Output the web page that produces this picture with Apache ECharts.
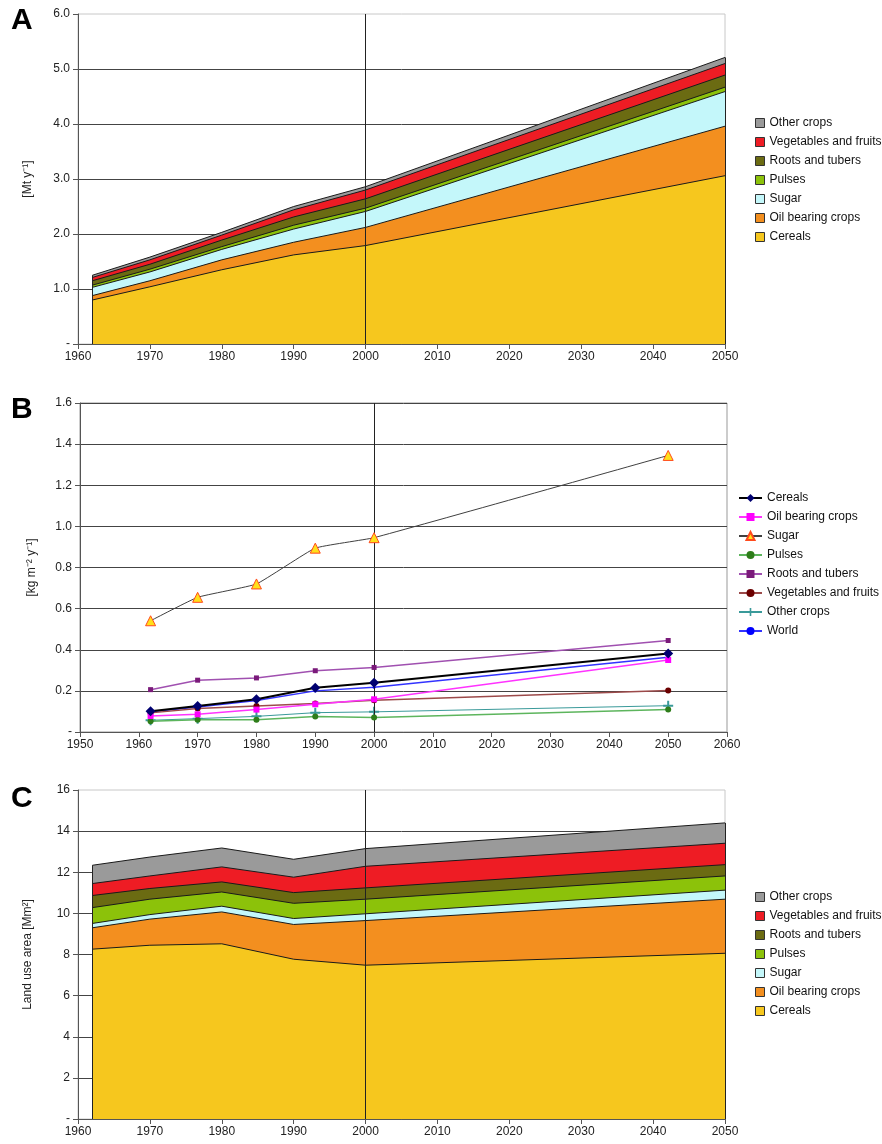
<!DOCTYPE html>
<html>
<head>
<meta charset="utf-8">
<script src="https://cdn.jsdelivr.net/npm/echarts@6/dist/echarts.min.js"></script>
<style>
  html, body { margin: 0; padding: 0; background: #fff; }
  #main { width: 882px; height: 1144px; }
</style>
</head>
<body>
<div id="main"></div>
<script>
(function () {
  // years shared by all three panels
  var years = [1962, 1970, 1980, 1990, 2000, 2050];

  // A: production [Mt/y], per crop layer (stacked)
  var prodCereals = [0.80, 1.04, 1.35, 1.62, 1.79, 3.06];
  var prodOil = [0.08, 0.11, 0.18, 0.23, 0.33, 0.90];
  var prodSugar = [0.15, 0.16, 0.19, 0.24, 0.29, 0.63];
  var prodPulses = [0.04, 0.05, 0.05, 0.07, 0.06, 0.08];
  var prodRoots = [0.08, 0.09, 0.12, 0.15, 0.17, 0.22];
  var prodVeg = [0.06, 0.08, 0.09, 0.13, 0.16, 0.21];
  var prodOther = [0.04, 0.05, 0.05, 0.06, 0.06, 0.11];

  // B: yield [kg m-2 y-1]
  var yieldCereals = [0.101, 0.127, 0.159, 0.215, 0.239, 0.382];
  var yieldOil = [0.078, 0.086, 0.109, 0.135, 0.159, 0.350];
  var yieldSugar = [0.541, 0.655, 0.720, 0.894, 0.945, 1.345];
  var yieldPulses = [0.052, 0.059, 0.059, 0.075, 0.070, 0.109];
  var yieldRoots = [0.206, 0.252, 0.263, 0.298, 0.314, 0.445];
  var yieldVeg = [0.093, 0.114, 0.127, 0.138, 0.154, 0.202];
  var yieldOther = [0.057, 0.065, 0.076, 0.094, 0.098, 0.128];
  var yieldWorld = [0.098, 0.122, 0.153, 0.200, 0.218, 0.363];

  // C: land use area [Mm2], per crop layer (stacked)
  var landCereals = [8.26, 8.45, 8.52, 7.77, 7.48, 8.06];
  var landOil = [1.04, 1.27, 1.55, 1.69, 2.17, 2.63];
  var landSugar = [0.21, 0.22, 0.28, 0.29, 0.33, 0.44];
  var landPulses = [0.77, 0.75, 0.69, 0.74, 0.71, 0.69];
  var landRoots = [0.59, 0.52, 0.49, 0.52, 0.55, 0.55];
  var landVeg = [0.58, 0.61, 0.73, 0.75, 1.05, 1.04];
  var landOther = [0.89, 0.92, 0.92, 0.87, 0.86, 0.99];

  var cropNames = ["Cereals", "Oil bearing crops", "Sugar", "Pulses",
    "Roots and tubers", "Vegetables and fruits", "Other crops"];
  var areaColors = ["#F6C71E", "#F38F1F", "#C4F7FA", "#8CC20A", "#6B6B12", "#EE1C24", "#9A9A9A"];

  var font = "Liberation Sans";
  var myChart = echarts.init(document.getElementById("main"));

  function pairs(vals) {
    return vals.map(function (v, i) { return [years[i], v]; });
  }

  var vline = {
    silent: true,
    symbol: "none",
    label: { show: false },
    lineStyle: { color: "#222", width: 1, type: "solid" },
    data: [{ xAxis: 2000 }]
  };

  var series = [];

  // stacked areas: sum the layers here, draw top layer first so lower ones cover it
  function stackedPanel(prefix, idx, layers) {
    var tops = [];
    var run = years.map(function () { return 0; });
    layers.forEach(function (vals) {
      run = run.map(function (r, j) { return r + vals[j]; });
      tops.push(run.slice());
    });
    var last = years.length - 1;
    for (var i = layers.length - 1; i >= 0; i--) {
      var s = {
        name: prefix + "|" + cropNames[i],
        type: "line",
        xAxisIndex: idx,
        yAxisIndex: idx,
        showSymbol: false,
        symbol: "none",
        lineStyle: { color: "#1a1a1a", width: 1 },
        itemStyle: { color: areaColors[i] },
        areaStyle: { color: areaColors[i], opacity: 1, origin: "start" },
        data: pairs(tops[i])
      };
      if (i === 0) {
        // 2000 divider plus dark outline on the left and right edges of the stack
        s.markLine = {
          silent: true,
          symbol: "none",
          label: { show: false },
          lineStyle: { color: "#222", width: 1, type: "solid" },
          data: [
            { xAxis: 2000 },
            [{ coord: [years[0], 0] }, { coord: [years[0], run[0]] }],
            [{ coord: [years[last], 0] }, { coord: [years[last], run[last]] }]
          ]
        };
      }
      series.push(s);
    }
  }

  stackedPanel("A", 0, [prodCereals, prodOil, prodSugar, prodPulses, prodRoots, prodVeg, prodOther]);
  stackedPanel("C", 2, [landCereals, landOil, landSugar, landPulses, landRoots, landVeg, landOther]);

  // B: lines with markers
  var plus = "path://M4,0H6V4H10V6H6V10H4V6H0V4H4Z";
  var bLines = [
    ["Cereals", yieldCereals, "#000000", 2, "diamond", 10, "#000070", null],
    ["Oil bearing crops", yieldOil, "#FF33FF", 1.5, "rect", 6, "#FF00FF", null],
    ["Sugar", yieldSugar, "#404040", 1, "triangle", 10, "#FFE01A", "#FF4A1C"],
    ["Pulses", yieldPulses, "#5DB55D", 1.5, "circle", 6, "#2E7D1A", null],
    ["Roots and tubers", yieldRoots, "#A050B0", 1.5, "rect", 5, "#7A1A7A", null],
    ["Vegetables and fruits", yieldVeg, "#9C4A4A", 1.5, "circle", 6, "#6B0000", null],
    ["Other crops", yieldOther, "#3A9A9A", 1, plus, 10, "#3A9A9A", null],
    ["World", yieldWorld, "#3333FF", 1.5, "circle", 3, "#0000FF", null]
  ];
  bLines.forEach(function (b, i) {
    var s = {
      name: "B|" + b[0],
      type: "line",
      xAxisIndex: 1,
      yAxisIndex: 1,
      symbol: b[4],
      symbolSize: b[5],
      showSymbol: true,
      smooth: b[0] === "Sugar" ? 0.12 : false,
      lineStyle: { color: b[2], width: b[3] },
      itemStyle: b[7] ? { color: b[6], borderColor: b[7], borderWidth: 1 } : { color: b[6] },
      z: 10 - i,
      data: pairs(b[1])
    };
    if (i === 0) s.markLine = vline;
    series.push(s);
  });

  var axisColor = "#555";
  function xAx(idx, min, max) {
    return {
      type: "value", gridIndex: idx, min: min, max: max, interval: 10,
      axisLine: { show: true, lineStyle: { color: axisColor } },
      axisTick: { show: true, length: 5, lineStyle: { color: axisColor } },
      axisLabel: { color: "#222", fontFamily: font, fontSize: 12, margin: 7,
        formatter: function (v) { return String(v); } },
      splitLine: { show: false }
    };
  }
  function yAx(idx, max, interval, name, gap, fmt, showMax) {
    return {
      type: "value", gridIndex: idx, min: 0, max: max, interval: interval,
      name: name, nameLocation: "middle", nameGap: gap,
      nameTextStyle: { color: "#222", fontFamily: font, fontSize: 12 },
      axisLine: { show: true, lineStyle: { color: axisColor } },
      axisTick: { show: true, length: 5, lineStyle: { color: axisColor } },
      axisLabel: { color: "#222", fontFamily: font, fontSize: 12, margin: 8, formatter: fmt },
      splitLine: { show: true, showMaxLine: showMax, lineStyle: { color: "#444", width: 1 } }
    };
  }

  function legendFor(prefix, top, left, isArea, names) {
    var l = {
      orient: "vertical",
      left: left,
      top: top,
      padding: 0,
      itemGap: 7,
      textStyle: { color: "#111", fontFamily: font, fontSize: 12 },
      formatter: function (n) { return n.split("|")[1]; },
      data: names.map(function (n) { return prefix + "|" + n; })
    };
    if (isArea) {
      l.icon = "rect";
      l.itemWidth = 9;
      l.itemHeight = 9;
      l.itemStyle = { borderColor: "#333", borderWidth: 1 };
    } else {
      l.itemWidth = 23;
      l.itemHeight = 10;
    }
    return l;
  }
  var stackOrder = cropNames.slice().reverse();

  var option = {
    animation: false,
    backgroundColor: "#fff",
    grid: [
      { left: 78, right: 157, top: 14, height: 330, show: true, borderColor: "#c8c8c8", borderWidth: 1 },
      { left: 80, right: 155, top: 403, height: 329, show: true, borderColor: "#999", borderWidth: 1 },
      { left: 78, right: 157, top: 790, height: 329, show: true, borderColor: "#c8c8c8", borderWidth: 1 }
    ],
    xAxis: [xAx(0, 1960, 2050), xAx(1, 1950, 2060), xAx(2, 1960, 2050)],
    yAxis: [
      yAx(0, 6, 1, "[Mt y\u207B\u00B9]", 44, function (v) { return v === 0 ? "-" : v.toFixed(1); }, false),
      yAx(1, 1.6, 0.2, "[kg m\u207B\u00B2 y\u207B\u00B9]", 42, function (v) { return v === 0 ? "-" : v.toFixed(1); }, true),
      yAx(2, 16, 2, "Land use area [Mm\u00B2]", 44, function (v) { return v === 0 ? "-" : String(v); }, false)
    ],
    legend: [
      legendFor("A", 117, 755, true, stackOrder),
      legendFor("B", 492, 738, false, cropNames.concat(["World"])),
      legendFor("C", 891, 755, true, stackOrder)
    ],
    graphic: [
      { type: "text", left: 11, top: 6, style: { text: "A", font: "bold 30px " + font, fill: "#000" } },
      { type: "text", left: 11, top: 395, style: { text: "B", font: "bold 30px " + font, fill: "#000" } },
      { type: "text", left: 11, top: 784, style: { text: "C", font: "bold 30px " + font, fill: "#000" } }
    ],
    series: series
  };
  myChart.setOption(option);
  window.addEventListener("resize", function () {
    myChart.resize();
  });
})();
</script>
</body>
</html>
